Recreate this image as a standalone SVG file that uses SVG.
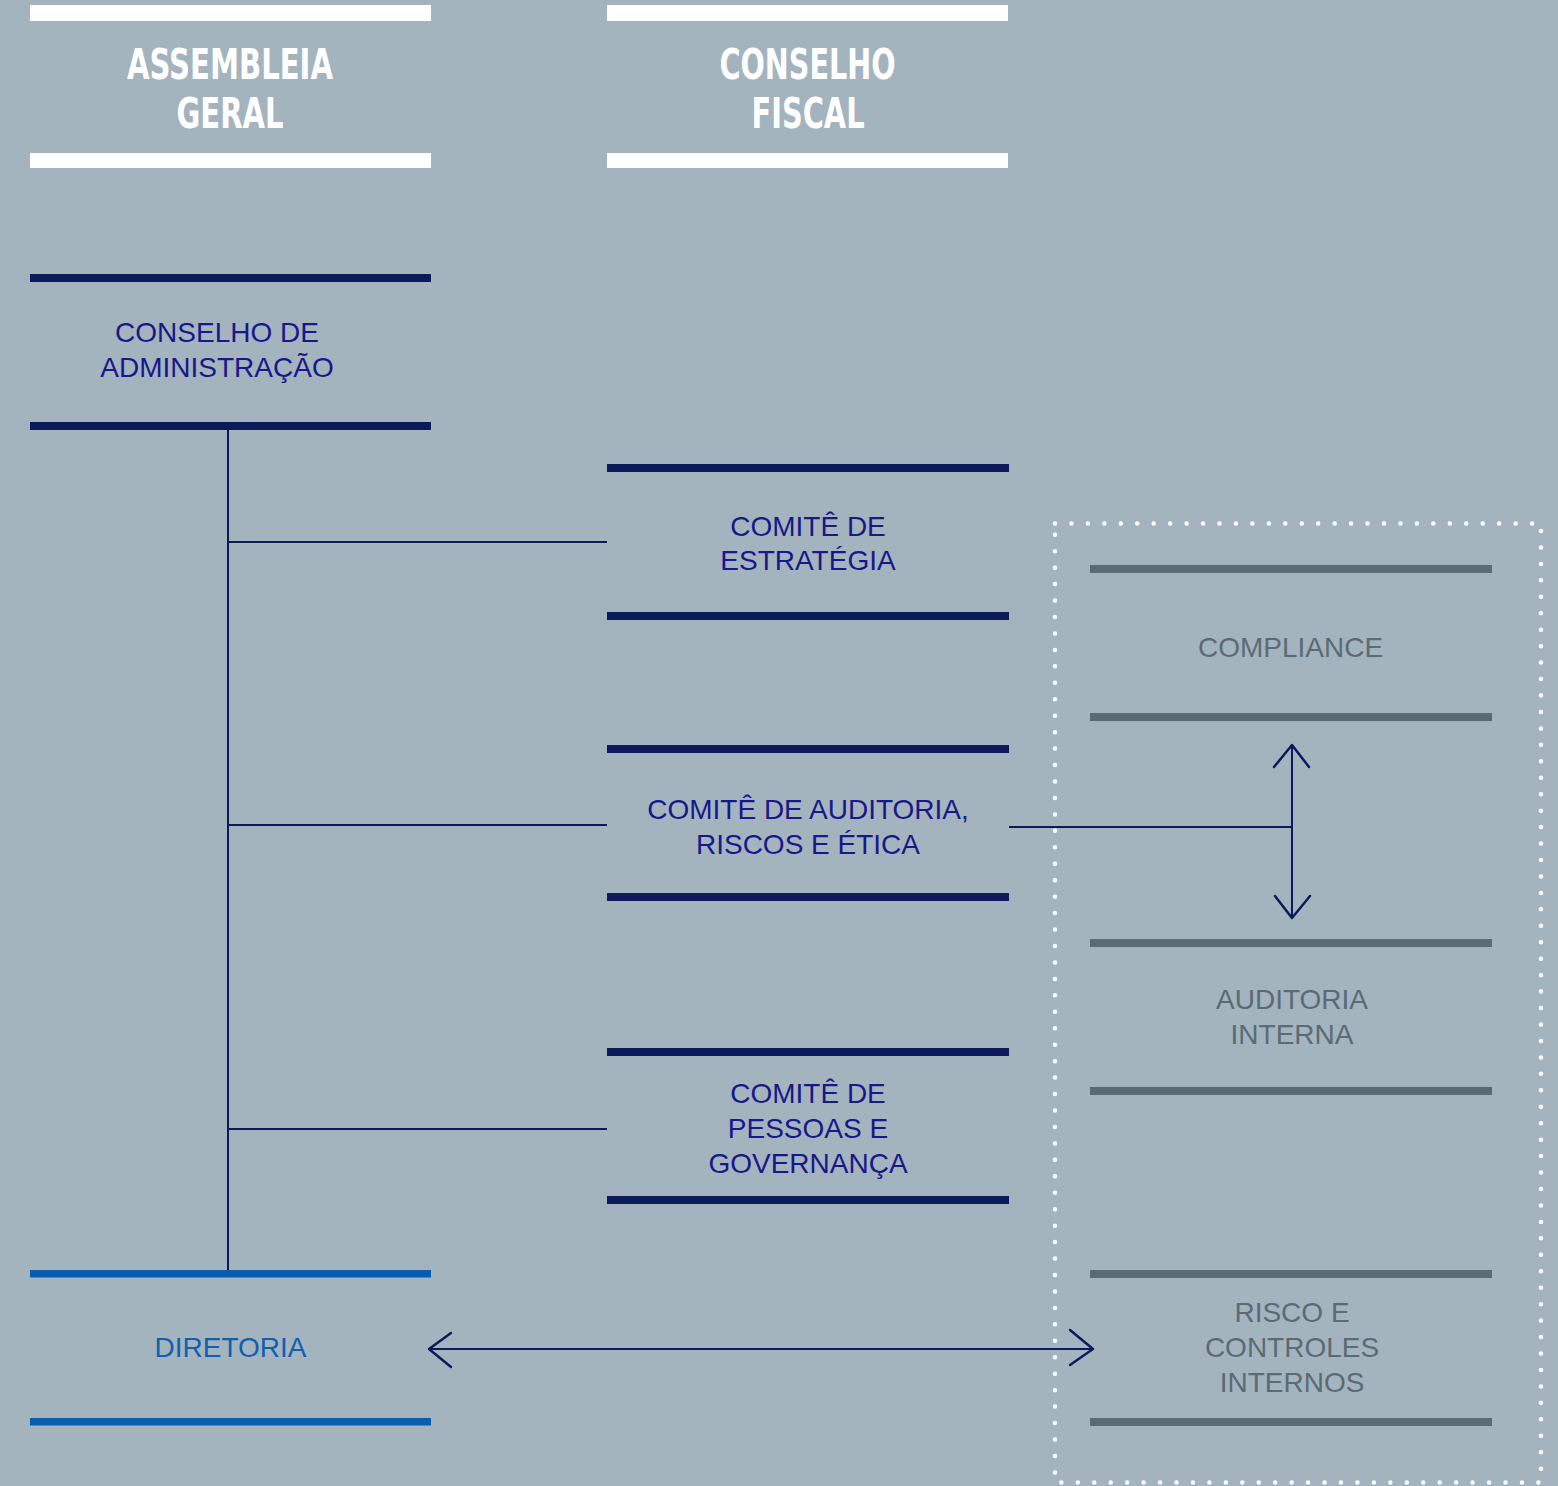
<svg xmlns="http://www.w3.org/2000/svg" width="1558" height="1486" viewBox="0 0 1558 1486">
<style>
.hd{font-family:"Liberation Sans Narrow","DejaVu Sans Condensed","Liberation Sans",sans-serif;font-weight:bold;font-size:42px;fill:#ffffff;text-anchor:middle}
.tx{font-family:"Liberation Sans",Arial,sans-serif;font-size:28px;text-anchor:middle}
.nv{fill:#18188a}
.bl{fill:#1060b0}
.gr{fill:#5b6b75}
.wbar{fill:#ffffff}
.nbar{fill:#0c1a5a}
.bbar{fill:#0a5cb0}
.gbar{fill:#5b6b74}
.cn{stroke:#0c1a5a;stroke-width:2;fill:none}
.ah{stroke:#0c1a5a;stroke-width:2.5;fill:none;stroke-linecap:round;stroke-linejoin:round}
</style>
<rect width="1558" height="1486" fill="#a3b4be"/>

<g id="connectors">
  <line class="cn" x1="228" y1="429" x2="228" y2="1271"/>
  <line class="cn" x1="228" y1="542" x2="607" y2="542"/>
  <line class="cn" x1="228" y1="825" x2="607" y2="825"/>
  <line class="cn" x1="228" y1="1129" x2="607" y2="1129"/>
  <line class="cn" x1="1009" y1="827" x2="1292" y2="827"/>
  <line class="cn" x1="1292" y1="745" x2="1292" y2="918"/>
  <polyline class="ah" points="1274,767 1292,745 1309,767"/>
  <polyline class="ah" points="1275,896 1292,918 1310,896"/>
  <line class="cn" x1="429" y1="1349" x2="1093" y2="1349"/>
  <polyline class="ah" points="451,1333 429,1349 451,1367"/>
  <polyline class="ah" points="1070,1330 1093,1349 1070,1365"/>
</g>

<g id="dotted-frame">
  <path d="M1055,523.5 H1541 V1482.5 H1055 Z" fill="none" stroke="#ffffff" stroke-width="4.5" stroke-linecap="round" stroke-dasharray="0 16.45"/>
</g>

<g id="assembleia-geral">
  <rect class="wbar" x="30" y="5" width="401" height="16"/>
  <rect class="wbar" x="30" y="153" width="401" height="15"/>
  <text class="hd" x="230" y="79" textLength="206" lengthAdjust="spacingAndGlyphs">ASSEMBLEIA</text>
  <text class="hd" x="230" y="127.5" textLength="107" lengthAdjust="spacingAndGlyphs">GERAL</text>
</g>

<g id="conselho-fiscal">
  <rect class="wbar" x="607" y="5" width="401" height="16"/>
  <rect class="wbar" x="607" y="153" width="401" height="15"/>
  <text class="hd" x="807.5" y="79" textLength="176" lengthAdjust="spacingAndGlyphs">CONSELHO</text>
  <text class="hd" x="808" y="127.5" textLength="113" lengthAdjust="spacingAndGlyphs">FISCAL</text>
</g>

<g id="conselho-administracao">
  <rect class="nbar" x="30" y="274" width="401" height="8"/>
  <rect class="nbar" x="30" y="422" width="401" height="8"/>
  <text class="tx nv" x="217" y="341.5">CONSELHO DE</text>
  <text class="tx nv" x="217" y="377">ADMINISTRAÇÃO</text>
</g>

<g id="comite-estrategia">
  <rect class="nbar" x="607" y="464" width="402" height="8"/>
  <rect class="nbar" x="607" y="612" width="402" height="8"/>
  <text class="tx nv" x="808" y="535.5">COMITÊ DE</text>
  <text class="tx nv" x="808" y="570">ESTRATÉGIA</text>
</g>

<g id="comite-auditoria">
  <rect class="nbar" x="607" y="745" width="402" height="8"/>
  <rect class="nbar" x="607" y="893" width="402" height="8"/>
  <text class="tx nv" x="808" y="819">COMITÊ DE AUDITORIA,</text>
  <text class="tx nv" x="808" y="853.5">RISCOS E ÉTICA</text>
</g>

<g id="comite-pessoas">
  <rect class="nbar" x="607" y="1048" width="402" height="8"/>
  <rect class="nbar" x="607" y="1196" width="402" height="8"/>
  <text class="tx nv" x="808" y="1102.5">COMITÊ DE</text>
  <text class="tx nv" x="808" y="1137.5">PESSOAS E</text>
  <text class="tx nv" x="808" y="1173">GOVERNANÇA</text>
</g>

<g id="diretoria">
  <rect class="bbar" x="30" y="1270" width="401" height="7.5"/>
  <rect class="bbar" x="30" y="1418" width="401" height="7.5"/>
  <text class="tx bl" x="230.5" y="1357">DIRETORIA</text>
</g>

<g id="compliance">
  <rect class="gbar" x="1090" y="565" width="402" height="8"/>
  <rect class="gbar" x="1090" y="713" width="402" height="8"/>
  <text class="tx gr" x="1290.5" y="657">COMPLIANCE</text>
</g>

<g id="auditoria-interna">
  <rect class="gbar" x="1090" y="939" width="402" height="8"/>
  <rect class="gbar" x="1090" y="1087" width="402" height="8"/>
  <text class="tx gr" x="1292" y="1009">AUDITORIA</text>
  <text class="tx gr" x="1292" y="1044">INTERNA</text>
</g>

<g id="risco-controles">
  <rect class="gbar" x="1090" y="1270" width="402" height="8"/>
  <rect class="gbar" x="1090" y="1418" width="402" height="8"/>
  <text class="tx gr" x="1292" y="1322">RISCO E</text>
  <text class="tx gr" x="1292" y="1357">CONTROLES</text>
  <text class="tx gr" x="1292" y="1392">INTERNOS</text>
</g>
</svg>
